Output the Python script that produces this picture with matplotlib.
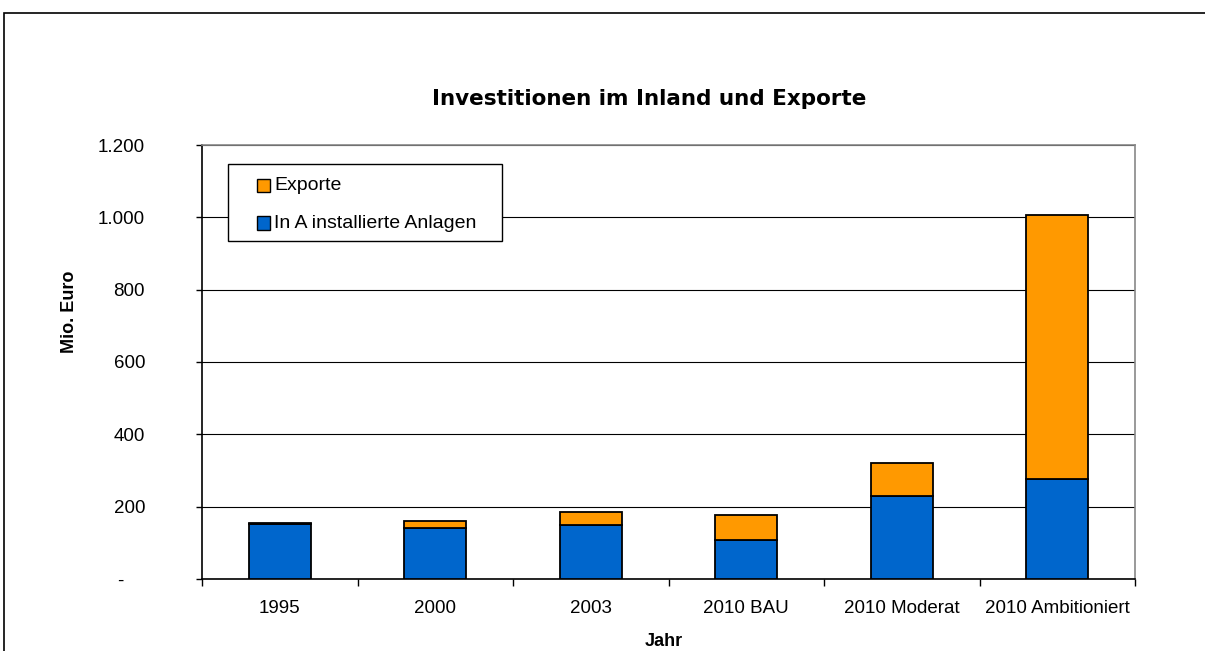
import matplotlib
matplotlib.use("Agg")
import matplotlib.pyplot as plt
from matplotlib.patches import Rectangle
from matplotlib.ticker import FixedLocator, FuncFormatter
import numpy as np

categories = ["1995", "2000", "2003", "2010 BAU", "2010 Moderat", "2010 Ambitioniert"]
inland = [151, 141, 148, 108, 229, 276]
exporte = [3, 20, 38, 70, 92, 730]
series_names = ["Exporte", "In A installierte Anlagen"]
series_colors = ["#FF9900", "#0066CC"]

W, H = 1205, 651
plt.rcParams["font.family"] = ["Liberation Sans", "DejaVu Sans"]
fig = plt.figure(figsize=(W / 100, H / 100), dpi=100)

# outer chart frame (runs off the right and bottom edge)
fig.patches.append(Rectangle((4 / W, -0.05), 1.1, 1 - 13 / H + 0.05, transform=fig.transFigure,
                             fill=False, edgecolor="black", linewidth=1.2))

AX_L, AX_R, AX_T, AX_B = 202, 1135, 145, 579
ax = fig.add_axes([AX_L / W, 1 - AX_B / H, (AX_R - AX_L) / W, (AX_B - AX_T) / H])
x = np.arange(len(categories))
ax.bar(x, inland, width=0.4, color=series_colors[1], edgecolor="black", linewidth=1.3, zorder=3)
ax.bar(x, exporte, bottom=inland, width=0.4, color=series_colors[0], edgecolor="black",
       linewidth=1.3, zorder=3)

ax.set_xlim(-0.5, len(categories) - 0.5)
ax.set_ylim(0, 1200)
ax.set_yticks(np.arange(0, 1201, 200))
ax.yaxis.set_major_formatter(FuncFormatter(
    lambda v, _: "-\u2007\u2007" if v == 0 else f"{int(v):,}".replace(",", ".")))
ax.yaxis.grid(True, color="black", linewidth=0.8, zorder=0)
ax.set_xticks(x)
ax.set_xticklabels(categories)
ax.xaxis.set_minor_locator(FixedLocator(np.arange(-0.5, len(categories), 1)))
ax.tick_params(axis="x", which="major", length=0, pad=15, labelsize=13.5)
ax.tick_params(axis="x", which="minor", length=5, width=1, direction="out")
ax.tick_params(axis="y", length=4, width=1, labelsize=13.5, pad=37)

for side in ("top", "right"):
    ax.spines[side].set_color("#888888")
    ax.spines[side].set_linewidth(1.2)
for side in ("left", "bottom"):
    ax.spines[side].set_color("black")
    ax.spines[side].set_linewidth(1.2)

fig.text(664 / W, 1 - 641 / H, "Jahr", ha="center", va="center", fontsize=13, fontweight="bold")
fig.text(69 / W, 1 - 312 / H, "Mio. Euro", rotation=90, ha="center", va="center",
         fontsize=13, fontweight="bold")
fig.text(649 / W, 1 - 99 / H, "Investitionen im Inland und Exporte", ha="center", va="center",
         fontsize=15.5, fontweight="bold", family=["DejaVu Sans"])

# legend box drawn like the spreadsheet one
def px(xp, yp):
    return (xp - AX_L) / (AX_R - AX_L), (AX_B - yp) / (AX_B - AX_T)

lx0, ly0 = px(228, 241)
lx1, ly1 = px(502, 164)
ax.add_patch(Rectangle((lx0, ly0), lx1 - lx0, ly1 - ly0, transform=ax.transAxes,
                       facecolor="white", edgecolor="black", linewidth=1.0, zorder=5))
for name, color, yc in zip(series_names, series_colors, [185, 223]):
    sx0, sy0 = px(257, yc + 6.5)
    sx1, sy1 = px(270, yc - 6.5)
    ax.add_patch(Rectangle((sx0, sy0), sx1 - sx0, sy1 - sy0, transform=ax.transAxes,
                           facecolor=color, edgecolor="black", linewidth=1.0, zorder=6))
    tx, ty = px(274, yc)
    ax.text(tx, ty, name, transform=ax.transAxes, ha="left", va="center", fontsize=14, zorder=6)

fig.savefig("out.png", dpi=100)
